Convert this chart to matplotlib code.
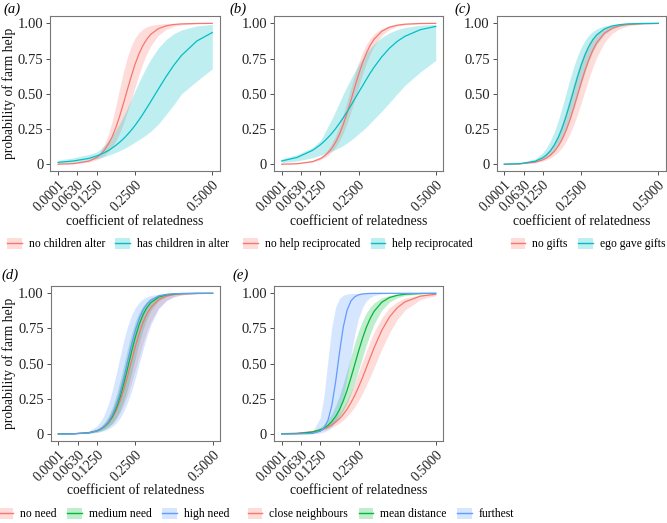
import matplotlib
matplotlib.use("Agg")
import matplotlib.pyplot as plt
from matplotlib.patches import Patch
from matplotlib.lines import Line2D

plt.rcParams['font.family'] = ['Liberation Serif', 'DejaVu Serif']

# ---------------- data ----------------
X = [0.0001, 0.05, 0.1, 0.125, 0.1375, 0.15, 0.1625, 0.175, 0.1875, 0.2, 0.2125, 0.225,
     0.2375, 0.25, 0.2625, 0.275, 0.2875, 0.3, 0.325, 0.35, 0.375, 0.4, 0.45, 0.5]

x_ticks = [0.0001, 0.063, 0.125, 0.25, 0.5]
x_tick_labels = ["0.0001", "0.0630", "0.1250", "0.2500", "0.5000"]
y_ticks = [0, 0.25, 0.5, 0.75, 1.0]
y_tick_labels = ["0", "0.25", "0.50", "0.75", "1.00"]

# (a)
a_labels = ["no children alter", "has children in alter"]
a_red = [0.001, 0.005, 0.023, 0.048, 0.070, 0.100, 0.141, 0.193, 0.261, 0.343, 0.435, 0.531,
         0.625, 0.711, 0.784, 0.842, 0.887, 0.921, 0.962, 0.982, 0.992, 0.996, 0.999, 1.0]
a_red_lo = [0.0007, 0.0037, 0.0155, 0.032, 0.045, 0.063, 0.088, 0.122, 0.167, 0.223, 0.293, 0.373,
            0.460, 0.550, 0.638, 0.717, 0.784, 0.839, 0.915, 0.957, 0.979, 0.990, 0.998, 0.999]
a_red_hi = [0.002, 0.008, 0.030, 0.060, 0.088, 0.137, 0.208, 0.301, 0.416, 0.540, 0.659, 0.761,
            0.840, 0.897, 0.935, 0.959, 0.975, 0.985, 0.994, 0.998, 0.999, 1.0, 1.0, 1.0]
a_cyan = [0.014, 0.024, 0.042, 0.059, 0.070, 0.083, 0.097, 0.115, 0.135, 0.157, 0.182, 0.211,
          0.242, 0.277, 0.315, 0.356, 0.399, 0.443, 0.533, 0.621, 0.702, 0.772, 0.875, 0.935]
a_cyan_lo = [0.005, 0.0115, 0.027, 0.040, 0.047, 0.054, 0.064, 0.074, 0.085, 0.097, 0.110, 0.125,
             0.141, 0.158, 0.175, 0.193, 0.212, 0.233, 0.285, 0.352, 0.423, 0.500, 0.591, 0.677]
a_cyan_hi = [0.030, 0.046, 0.070, 0.087, 0.108, 0.135, 0.165, 0.202, 0.244, 0.291, 0.345, 0.401,
             0.461, 0.522, 0.582, 0.640, 0.694, 0.743, 0.825, 0.885, 0.926, 0.953, 0.982, 0.993]

# (b)
b_labels = ["no help reciprocated", "help reciprocated"]
b_red = [0.001, 0.0044, 0.019, 0.040, 0.057, 0.081, 0.113, 0.157, 0.212, 0.283, 0.365, 0.455,
         0.549, 0.639, 0.720, 0.789, 0.845, 0.888, 0.944, 0.973, 0.987, 0.994, 0.999, 1.0]
b_red_lo = [0.0007, 0.0037, 0.0155, 0.032, 0.045, 0.063, 0.088, 0.122, 0.167, 0.223, 0.293, 0.373,
            0.460, 0.550, 0.638, 0.717, 0.784, 0.839, 0.915, 0.957, 0.979, 0.990, 0.998, 0.999]
b_red_hi = [0.002, 0.006, 0.024, 0.052, 0.074, 0.105, 0.148, 0.204, 0.273, 0.357, 0.450, 0.547,
            0.639, 0.723, 0.794, 0.851, 0.893, 0.925, 0.964, 0.983, 0.992, 0.996, 0.999, 1.0]
b_cyan = [0.024, 0.049, 0.099, 0.138, 0.162, 0.189, 0.219, 0.253, 0.291, 0.331, 0.373, 0.418,
          0.465, 0.511, 0.557, 0.603, 0.648, 0.689, 0.763, 0.824, 0.872, 0.908, 0.955, 0.978]
b_cyan_lo = [0.012, 0.024, 0.047, 0.064, 0.073, 0.082, 0.094, 0.105, 0.119, 0.134, 0.152, 0.172,
             0.193, 0.218, 0.240, 0.265, 0.293, 0.321, 0.378, 0.438, 0.500, 0.560, 0.655, 0.737]
b_cyan_hi = [0.039, 0.069, 0.119, 0.168, 0.214, 0.269, 0.321, 0.378, 0.438, 0.500, 0.555, 0.608,
             0.659, 0.707, 0.750, 0.789, 0.823, 0.853, 0.900, 0.933, 0.956, 0.971, 0.987, 0.993]

# (c)
c_labels = ["no gifts", "ego gave gifts"]
c_red = [0.0008, 0.0034, 0.015, 0.032, 0.046, 0.065, 0.092, 0.128, 0.176, 0.237, 0.311, 0.397,
         0.489, 0.582, 0.669, 0.746, 0.811, 0.862, 0.930, 0.965, 0.983, 0.992, 0.998, 0.9996]
c_red_lo = [0.0006, 0.0029, 0.0115, 0.023, 0.032, 0.045, 0.063, 0.087, 0.119, 0.161, 0.214, 0.279,
            0.354, 0.438, 0.525, 0.611, 0.690, 0.759, 0.864, 0.928, 0.963, 0.981, 0.995, 0.9988]
c_red_hi = [0.0012, 0.0058, 0.027, 0.056, 0.081, 0.114, 0.160, 0.219, 0.293, 0.378, 0.473, 0.570,
            0.661, 0.741, 0.809, 0.862, 0.902, 0.931, 0.967, 0.984, 0.993, 0.9967, 0.9993, 0.9998]
c_cyan = [0.001, 0.0048, 0.022, 0.047, 0.068, 0.097, 0.137, 0.189, 0.255, 0.336, 0.427, 0.523,
          0.618, 0.705, 0.779, 0.838, 0.884, 0.918, 0.960, 0.981, 0.991, 0.996, 0.9991, 0.9998]
c_cyan_lo = [0.0007, 0.004, 0.017, 0.034, 0.049, 0.069, 0.095, 0.132, 0.179, 0.239, 0.310, 0.393,
             0.482, 0.572, 0.657, 0.734, 0.799, 0.851, 0.922, 0.960, 0.980, 0.990, 0.9977, 0.9995]
c_cyan_hi = [0.0017, 0.008, 0.039, 0.083, 0.119, 0.168, 0.231, 0.310, 0.401, 0.500, 0.599, 0.690,
             0.769, 0.832, 0.881, 0.917, 0.943, 0.961, 0.982, 0.992, 0.996, 0.998, 0.9997, 1.0]

# (d)
d_labels = ["no need", "medium need", "high need"]
d_red = [0.0003, 0.0019, 0.010, 0.023, 0.035, 0.053, 0.078, 0.115, 0.166, 0.233, 0.318, 0.416,
         0.521, 0.625, 0.718, 0.796, 0.856, 0.901, 0.955, 0.980, 0.9915, 0.9963, 0.9993, 0.9999]
d_red_lo = [0.0002, 0.0017, 0.008, 0.017, 0.026, 0.037, 0.054, 0.077, 0.110, 0.154, 0.211, 0.283,
            0.368, 0.461, 0.558, 0.650, 0.733, 0.801, 0.898, 0.950, 0.976, 0.989, 0.9976, 0.9995]
d_red_hi = [0.0004, 0.0024, 0.014, 0.034, 0.052, 0.080, 0.119, 0.175, 0.250, 0.343, 0.450, 0.562,
            0.668, 0.759, 0.832, 0.886, 0.924, 0.950, 0.979, 0.9914, 0.9965, 0.9986, 0.9998, 1.0]
d_green = [0.0002, 0.0014, 0.0087, 0.022, 0.034, 0.053, 0.082, 0.123, 0.182, 0.261, 0.361, 0.472,
           0.587, 0.692, 0.782, 0.851, 0.900, 0.935, 0.973, 0.989, 0.9957, 0.9983, 0.9997, 1.0]
d_green_lo = [0.0001, 0.0009, 0.0054, 0.013, 0.020, 0.032, 0.049, 0.074, 0.112, 0.165, 0.237, 0.327,
              0.433, 0.545, 0.652, 0.746, 0.822, 0.879, 0.947, 0.978, 0.991, 0.9962, 0.9994, 1.0]
d_green_hi = [0.0003, 0.002, 0.0135, 0.034, 0.054, 0.084, 0.128, 0.191, 0.275, 0.379, 0.495, 0.613,
              0.717, 0.804, 0.868, 0.913, 0.944, 0.965, 0.986, 0.9946, 0.998, 0.9992, 0.9999, 1.0]
d_blue = [0.0002, 0.0012, 0.008, 0.021, 0.035, 0.055, 0.086, 0.134, 0.201, 0.289, 0.399, 0.520,
          0.638, 0.741, 0.823, 0.884, 0.925, 0.953, 0.982, 0.993, 0.9973, 0.999, 1.0, 1.0]
d_blue_lo = [0.0001, 0.0009, 0.0047, 0.0108, 0.016, 0.024, 0.036, 0.054, 0.079, 0.114, 0.164, 0.228,
             0.308, 0.401, 0.505, 0.606, 0.698, 0.777, 0.889, 0.948, 0.977, 0.9895, 0.998, 0.9996]
d_blue_hi = [0.0004, 0.003, 0.022, 0.057, 0.091, 0.142, 0.214, 0.310, 0.426, 0.550, 0.668, 0.769,
             0.846, 0.900, 0.937, 0.961, 0.976, 0.985, 0.9945, 0.998, 0.9993, 1.0, 1.0, 1.0]

# (e)
e_labels = ["close neighbours", "mean distance", "furthest"]
e_red = [0.0017, 0.0053, 0.016, 0.028, 0.037, 0.049, 0.064, 0.084, 0.108, 0.139, 0.177, 0.223,
         0.275, 0.336, 0.401, 0.472, 0.543, 0.613, 0.737, 0.832, 0.897, 0.939, 0.980, 0.9934]
e_red_lo = [0.0012, 0.0047, 0.013, 0.022, 0.029, 0.037, 0.048, 0.061, 0.078, 0.099, 0.126, 0.157,
            0.195, 0.240, 0.291, 0.348, 0.409, 0.474, 0.603, 0.720, 0.813, 0.881, 0.955, 0.984]
e_red_hi = [0.002, 0.0064, 0.021, 0.038, 0.050, 0.067, 0.088, 0.115, 0.149, 0.192, 0.242, 0.301,
            0.368, 0.440, 0.515, 0.589, 0.659, 0.723, 0.826, 0.897, 0.940, 0.966, 0.9896, 0.9969]
e_green = [0.0006, 0.0029, 0.0137, 0.029, 0.042, 0.061, 0.088, 0.124, 0.172, 0.235, 0.312, 0.401,
           0.496, 0.592, 0.681, 0.759, 0.822, 0.872, 0.937, 0.970, 0.986, 0.9934, 0.9986, 0.9997]
e_green_lo = [0.0004, 0.0026, 0.0108, 0.022, 0.031, 0.044, 0.062, 0.087, 0.121, 0.165, 0.221, 0.289,
              0.368, 0.457, 0.547, 0.634, 0.713, 0.782, 0.881, 0.939, 0.969, 0.985, 0.9964, 0.9992]
e_green_hi = [0.0009, 0.0046, 0.022, 0.048, 0.070, 0.102, 0.144, 0.201, 0.273, 0.359, 0.455, 0.555,
              0.650, 0.735, 0.805, 0.861, 0.902, 0.932, 0.968, 0.985, 0.9934, 0.997, 0.9994, 0.9999]
e_blue = [0.0, 0.0001, 0.0035, 0.019, 0.044, 0.096, 0.199, 0.368, 0.576, 0.761, 0.882, 0.946,
          0.976, 0.9896, 0.9955, 0.998, 0.9992, 0.9997, 1.0, 1.0, 1.0, 1.0, 1.0, 1.0]
e_blue_lo = [0.0, 0.0001, 0.002, 0.007, 0.0135, 0.026, 0.048, 0.088, 0.156, 0.261, 0.404, 0.565,
             0.713, 0.826, 0.901, 0.946, 0.971, 0.985, 0.9958, 0.9988, 0.9997, 1.0, 1.0, 1.0]
e_blue_hi = [0.0, 0.0002, 0.015, 0.115, 0.273, 0.521, 0.759, 0.901, 0.963, 0.987, 0.9955, 0.9984,
             0.9995, 1.0, 1.0, 1.0, 1.0, 1.0, 1.0, 1.0, 1.0, 1.0, 1.0, 1.0]

# ---------------- styling ----------------
RED, CYAN, GREEN, BLUE = "#F8766D", "#00BFC4", "#00BA38", "#619CFF"
W, H = 667, 523

def rect(l, r, t, b):
    return [l / W, 1 - b / H, (r - l) / W, (b - t) / H]

panels = [
    dict(tag="a", box=(50.3, 220.0, 16.3, 171.4), labels=a_labels,
         series=[(RED, a_red, a_red_lo, a_red_hi), (CYAN, a_cyan, a_cyan_lo, a_cyan_hi)],
         legend_xy=(118, 244), tag_xy=(12, 9), ylab=True),
    dict(tag="b", box=(274.0, 443.4, 16.3, 171.4), labels=b_labels,
         series=[(RED, b_red, b_red_lo, b_red_hi), (CYAN, b_cyan, b_cyan_lo, b_cyan_hi)],
         legend_xy=(358, 244), tag_xy=(238, 9), ylab=False),
    dict(tag="c", box=(496.6, 666.0, 16.3, 171.4), labels=c_labels,
         series=[(RED, c_red, c_red_lo, c_red_hi), (CYAN, c_cyan, c_cyan_lo, c_cyan_hi)],
         legend_xy=(588, 244), tag_xy=(463, 9), ylab=False),
    dict(tag="d", box=(50.6, 220.4, 286.3, 441.0), labels=d_labels,
         series=[(RED, d_red, d_red_lo, d_red_hi), (GREEN, d_green, d_green_lo, d_green_hi),
                 (BLUE, d_blue, d_blue_lo, d_blue_hi)],
         legend_xy=(114, 514), tag_xy=(10, 275), ylab=True),
    dict(tag="e", box=(274.0, 443.4, 286.3, 441.0), labels=e_labels,
         series=[(RED, e_red, e_red_lo, e_red_hi), (GREEN, e_green, e_green_lo, e_green_hi),
                 (BLUE, e_blue, e_blue_lo, e_blue_hi)],
         legend_xy=(381, 514), tag_xy=(241, 275), ylab=False),
]

fig = plt.figure(figsize=(W / 100, H / 100), dpi=100)

for p in panels:
    l, r, t, b = p["box"]
    ax = fig.add_axes(rect(l, r, t, b))
    for col, line, lo, hi in p["series"]:
        ax.fill_between(X, lo, hi, color=col, alpha=0.25, lw=0)
    for col, line, lo, hi in p["series"]:
        ax.plot(X, line, color=col, lw=0.9)
    ax.set_xlim(-0.0249, 0.525)
    ax.set_ylim(-0.05, 1.05)
    ax.set_xticks(x_ticks)
    ax.set_xticklabels(x_tick_labels, rotation=45, ha="right", va="top",
                       rotation_mode="anchor", fontsize=10)
    ax.set_yticks(y_ticks)
    ax.set_yticklabels(y_tick_labels, fontsize=10.5)
    ax.tick_params(length=3, width=0.6, color="#333333", pad=2, labelcolor="#222222")
    for s in ax.spines.values():
        s.set_color("#777777")
        s.set_linewidth(0.8)
    cx = (l + r) / 2
    fig.text(cx / W, 1 - (b + 50) / H, "coefficient of relatedness", ha="center",
             va="center", fontsize=9.8, color="#111111")
    if p["ylab"]:
        fig.text(9 / W, 1 - ((t + b) / 2) / H, "probability of farm help", rotation=90,
                 ha="center", va="center", fontsize=9.8, color="#111111")
    tx, ty = p["tag_xy"]
    fig.text(tx / W, 1 - ty / H, "(%s)" % p["tag"], ha="center", va="center",
             fontsize=10.5, style="italic")
    handles = [(Patch(facecolor=col, alpha=0.25, lw=0), Line2D([], [], color=col, lw=1.0))
               for col, *_ in p["series"]]
    lx, ly = p["legend_xy"]
    fig.legend(handles, p["labels"], loc="center", bbox_to_anchor=(lx / W, 1 - ly / H),
               ncol=len(handles), frameon=False, fontsize=8.4, handlelength=1.25,
               handleheight=1.1, handletextpad=0.6, columnspacing=0.9, borderpad=0,
               borderaxespad=0)

fig.savefig("out.png", dpi=100)
